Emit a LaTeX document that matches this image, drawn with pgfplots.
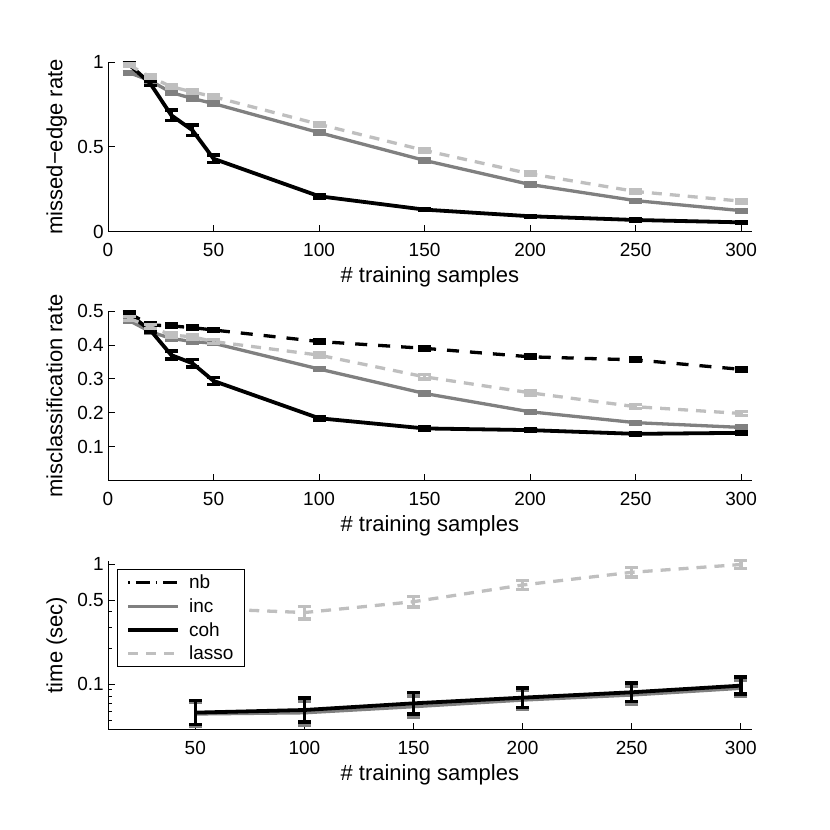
\documentclass[border=0pt]{standalone}
\usepackage{pgfplots}
\pgfplotsset{compat=1.18}
\usepackage{fontspec}
\setmainfont{Liberation Sans}
\definecolor{incgray}{RGB}{128,128,128}
\definecolor{lassogray}{RGB}{191,191,191}

\newcommand{\tickfont}{\fontsize{19}{22}\selectfont}
\newcommand{\labfont}{\fontsize{22}{26}\selectfont}

\pgfplotsset{
  panel/.style={
    scale only axis, width=643.7pt,
    axis x line*=bottom, axis y line*=left,
    tick align=inside,
    major tick length=6.5pt, minor tick length=3.5pt,
    every tick/.style={black, line width=0.8pt},
    axis line style={black, line width=0.8pt},
    tick label style={font=\tickfont},
    label style={font=\labfont},
    /pgf/number format/assume math mode=true,
    xticklabel style={anchor=north, inner sep=0pt, yshift=-11.3pt},
    yticklabel style={anchor=east, inner sep=0pt, xshift=-4pt},
    xlabel={\# training samples},
    xlabel style={at={(axis description cs:0.5,-0.3005)}, anchor=base, inner sep=0pt},
    ylabel style={at={(axis description cs:-0.0707,0.5)}, anchor=base, inner sep=0pt},
    clip=false,
  },
  errs/.style={
    error bars/y dir=both, error bars/y explicit,
    error bars/error bar style={solid, line width=3.5pt},
    error bars/error mark options={solid, rotate=90, mark size=6.5pt, line width=3.5pt}},
  longleg/.style={legend image code/.code={\draw[##1] (0pt,0pt) -- (50pt,0pt);}},
  nbstyle/.style={black, line width=3.3pt, dash pattern=on 12pt off 11pt},
  incstyle/.style={incgray, line width=3.3pt},
  cohstyle/.style={black, line width=3.8pt},
  lassostyle/.style={lassogray, line width=3.3pt, dash pattern=on 10pt off 8pt},
}

\begin{document}
\begin{tikzpicture}
\useasboundingbox (0,0) rectangle (830pt,830pt);

% missed-edge rate
\begin{axis}[panel, at={(108pt,598.3pt)}, anchor=south west, height=169.7pt,
  xmin=0, xmax=305, ymin=0, ymax=1,
  xtick={0,50,...,300}, ytick={0,0.5,1},
  ylabel={missed−edge rate}]
\addplot[incstyle, errs] coordinates {
  (10,0.937) +- (0,0.008) (20,0.89) +- (0,0.008) (30,0.82) +- (0,0.008)
  (40,0.785) +- (0,0.008) (50,0.755) +- (0,0.008) (100,0.584) +- (0,0.008)
  (150,0.42) +- (0,0.008) (200,0.278) +- (0,0.008) (250,0.183) +- (0,0.008)
  (300,0.124) +- (0,0.008)};
\addplot[cohstyle, errs] coordinates {
  (10,0.985) +- (0,0.01) (20,0.874) +- (0,0.012) (30,0.686) +- (0,0.03)
  (40,0.598) +- (0,0.03) (50,0.43) +- (0,0.022) (100,0.209) +- (0,0.01)
  (150,0.13) +- (0,0.006) (200,0.091) +- (0,0.005) (250,0.069) +- (0,0.005)
  (300,0.055) +- (0,0.005)};
\addplot[lassostyle, errs] coordinates {
  (10,0.982) +- (0,0.01) (20,0.913) +- (0,0.01) (30,0.854) +- (0,0.01)
  (40,0.824) +- (0,0.01) (50,0.795) +- (0,0.01) (100,0.633) +- (0,0.01)
  (150,0.479) +- (0,0.01) (200,0.341) +- (0,0.01) (250,0.237) +- (0,0.01)
  (300,0.18) +- (0,0.01)};
\end{axis}

% misclassification rate
\begin{axis}[panel, at={(108pt,349.3pt)}, anchor=south west, height=169.7pt,
  xmin=0, xmax=305, ymin=0, ymax=0.5,
  xtick={0,50,...,300}, ytick={0.1,0.2,0.3,0.4,0.5},
  ylabel={misclassification rate}]
\addplot[nbstyle, errs] coordinates {
  (10,0.493) +- (0,0.005) (20,0.459) +- (0,0.005) (30,0.456) +- (0,0.005)
  (40,0.451) +- (0,0.005) (50,0.444) +- (0,0.005) (100,0.41) +- (0,0.005)
  (150,0.39) +- (0,0.005) (200,0.365) +- (0,0.005) (250,0.356) +- (0,0.005)
  (300,0.328) +- (0,0.005)};
\addplot[incstyle, errs] coordinates {
  (10,0.472) +- (0,0.004) (20,0.439) +- (0,0.004) (30,0.419) +- (0,0.004)
  (40,0.41) +- (0,0.004) (50,0.405) +- (0,0.004) (100,0.329) +- (0,0.004)
  (150,0.257) +- (0,0.004) (200,0.203) +- (0,0.004) (250,0.171) +- (0,0.004)
  (300,0.157) +- (0,0.004)};
\addplot[cohstyle, errs] coordinates {
  (10,0.49) +- (0,0.005) (20,0.444) +- (0,0.006) (30,0.37) +- (0,0.012)
  (40,0.346) +- (0,0.011) (50,0.294) +- (0,0.01) (100,0.184) +- (0,0.005)
  (150,0.154) +- (0,0.004) (200,0.149) +- (0,0.004) (250,0.138) +- (0,0.004)
  (300,0.141) +- (0,0.004)};
\addplot[lassostyle, errs] coordinates {
  (10,0.478) +- (0,0.006) (20,0.454) +- (0,0.006) (30,0.429) +- (0,0.006)
  (40,0.424) +- (0,0.006) (50,0.41) +- (0,0.006) (100,0.37) +- (0,0.006)
  (150,0.306) +- (0,0.007) (200,0.259) +- (0,0.006) (250,0.218) +- (0,0.006)
  (300,0.198) +- (0,0.006)};
\end{axis}

% time
\begin{axis}[panel, at={(108pt,100.7pt)}, anchor=south west, height=168.6pt,
  ymode=log, xmin=10, xmax=305, ymin=0.0423, ymax=1.065,
  xtick={50,100,...,300}, ytick={0.1,0.5,1}, yticklabels={0.1,0.5,1},
  minor ytick={0.05,0.06,0.07,0.08,0.09,0.2,0.3,0.4},
  ylabel={time (sec)},
  xlabel style={at={(axis description cs:0.5,-0.3025)}},
  legend cell align=left,
  legend style={at={(axis description cs:0.0144,0.949)}, anchor=north west,
    draw=black, line width=0.8pt, fill=white, font=\tickfont,
    inner xsep=8.7pt, inner ysep=3.5pt, row sep=4.3pt, column sep=7pt,
    nodes={inner sep=2pt}}]
\addlegendimage{longleg, black, line width=3.3pt, dash pattern=on 1.5pt off 6pt on 14pt off 6pt}
\addlegendentry{nb}
\addlegendimage{longleg, incstyle}
\addlegendentry{inc}
\addlegendimage{longleg, cohstyle}
\addlegendentry{coh}
\addlegendimage{longleg, lassostyle}
\addlegendentry{lasso}
\addplot[incstyle, errs, forget plot] coordinates {
  (50,0.0567) += (0,0.0147) -= (0,0.0117) (100,0.058) += (0,0.015) -= (0,0.012)
  (150,0.0652) += (0,0.015) -= (0,0.0122) (200,0.074) += (0,0.015) -= (0,0.0124)
  (250,0.0815) += (0,0.0154) -= (0,0.013) (300,0.0927) += (0,0.0162) -= (0,0.0138)};
\addplot[cohstyle, errs, forget plot] coordinates {
  (50,0.0582) += (0,0.0151) -= (0,0.012) (100,0.0612) += (0,0.0159) -= (0,0.0126)
  (150,0.0695) += (0,0.016) -= (0,0.013) (200,0.0775) += (0,0.0157) -= (0,0.013)
  (250,0.0859) += (0,0.0162) -= (0,0.0136) (300,0.0975) += (0,0.0171) -= (0,0.0145)};
\addplot[lassostyle, errs, forget plot] coordinates {
  (50,0.43) += (0,0.04) -= (0,0.035) (100,0.395) += (0,0.05) -= (0,0.045)
  (150,0.486) += (0,0.05) -= (0,0.045) (200,0.669) += (0,0.06) -= (0,0.055)
  (250,0.853) += (0,0.085) -= (0,0.075) (300,0.99) += (0,0.075) -= (0,0.07)};
\end{axis}
\end{tikzpicture}
\end{document}
